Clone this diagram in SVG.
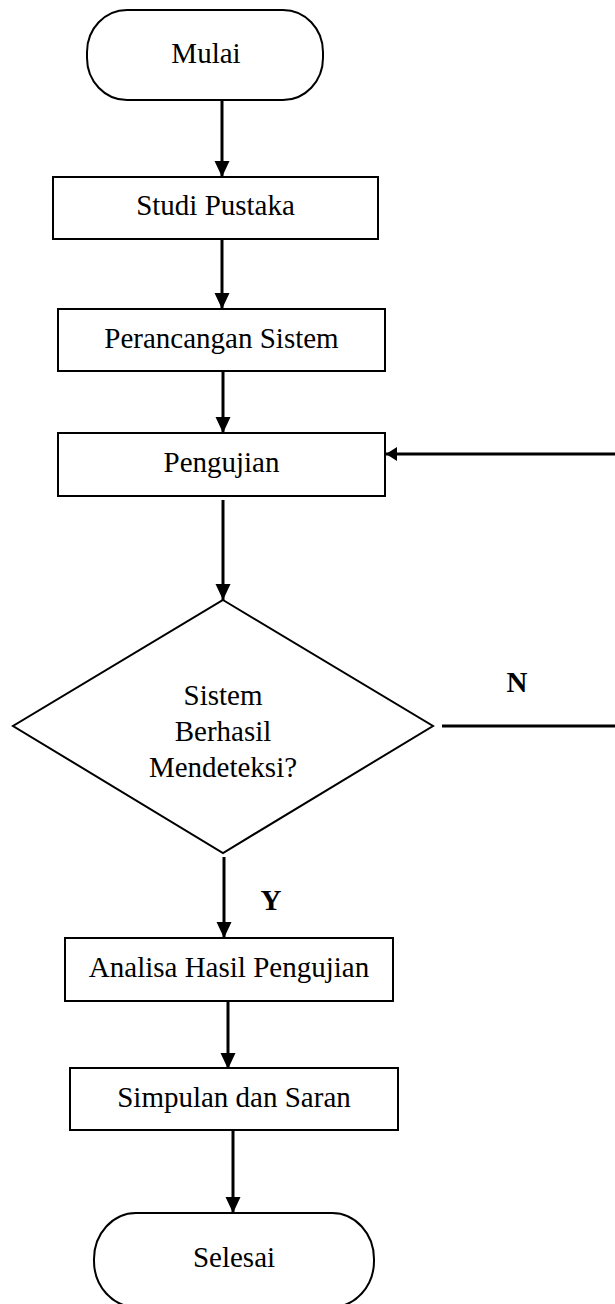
<svg xmlns="http://www.w3.org/2000/svg" width="615" height="1304" viewBox="0 0 615 1304">
<style>
.box{fill:#fff;stroke:#000;stroke-width:2}
.t{font-family:"Liberation Serif","Times New Roman",serif;font-size:29px;fill:#000;text-anchor:middle}
.b{font-weight:bold}
.c{fill:none;stroke:#000;stroke-width:3}
</style>
<defs>
<marker id="ah" markerUnits="userSpaceOnUse" markerWidth="16" markerHeight="16" viewBox="0 0 16 16" refX="16" refY="8" orient="auto">
<path d="M0,0.5 L16,8 L0,15.5 Z" fill="#000"/>
</marker>
<marker id="ah2" markerUnits="userSpaceOnUse" markerWidth="11" markerHeight="14" viewBox="0 0 11 14" refX="11" refY="7" orient="auto">
<path d="M0,0 L11,7 L0,14 Z" fill="#000"/>
</marker>
</defs>
<rect width="615" height="1304" fill="#fff"/>
<g id="connectors">
<line class="c" x1="222" y1="100" x2="222" y2="177" marker-end="url(#ah)"/>
<line class="c" x1="222" y1="237" x2="222" y2="309" marker-end="url(#ah)"/>
<line class="c" x1="223" y1="371" x2="223" y2="433" marker-end="url(#ah)"/>
<line class="c" x1="223" y1="500" x2="223" y2="600" marker-end="url(#ah)"/>
<line class="c" x1="224" y1="857" x2="224" y2="938" marker-end="url(#ah)"/>
<line class="c" x1="228" y1="993" x2="228" y2="1069" marker-end="url(#ah)"/>
<line class="c" x1="233" y1="1130" x2="233" y2="1213" marker-end="url(#ah)"/>
<path class="c" d="M442,726 H620 V454 H386" marker-end="url(#ah2)"/>
<text class="t b" x="517" y="692">N</text>
<text class="t b" x="271" y="910">Y</text>
</g>
<g id="mulai">
<rect class="box" x="87" y="10" width="236" height="90" rx="40" ry="42"/>
<text class="t" x="206" y="63">Mulai</text>
</g>
<g id="studi">
<rect class="box" x="53" y="177" width="325" height="62"/>
<text class="t" x="215.5" y="215">Studi Pustaka</text>
</g>
<g id="perancangan">
<rect class="box" x="58" y="309" width="327" height="62"/>
<text class="t" x="221.5" y="348">Perancangan Sistem</text>
</g>
<g id="pengujian">
<rect class="box" x="58" y="433" width="327" height="63"/>
<text class="t" x="221.5" y="472">Pengujian</text>
</g>
<g id="decision">
<polygon class="box" points="223,600 433,726 223,853 13,726"/>
<text class="t" x="223" y="705">Sistem</text>
<text class="t" x="223" y="741">Berhasil</text>
<text class="t" x="223" y="777">Mendeteksi?</text>
</g>
<g id="analisa">
<rect class="box" x="65" y="938" width="328" height="63"/>
<text class="t" x="229" y="977">Analisa Hasil Pengujian</text>
</g>
<g id="simpulan">
<rect class="box" x="70" y="1068" width="328" height="62"/>
<text class="t" x="234" y="1107">Simpulan dan Saran</text>
</g>
<g id="selesai">
<rect class="box" x="94" y="1213" width="280" height="94" rx="42" ry="46"/>
<text class="t" x="234" y="1267">Selesai</text>
</g>
</svg>
